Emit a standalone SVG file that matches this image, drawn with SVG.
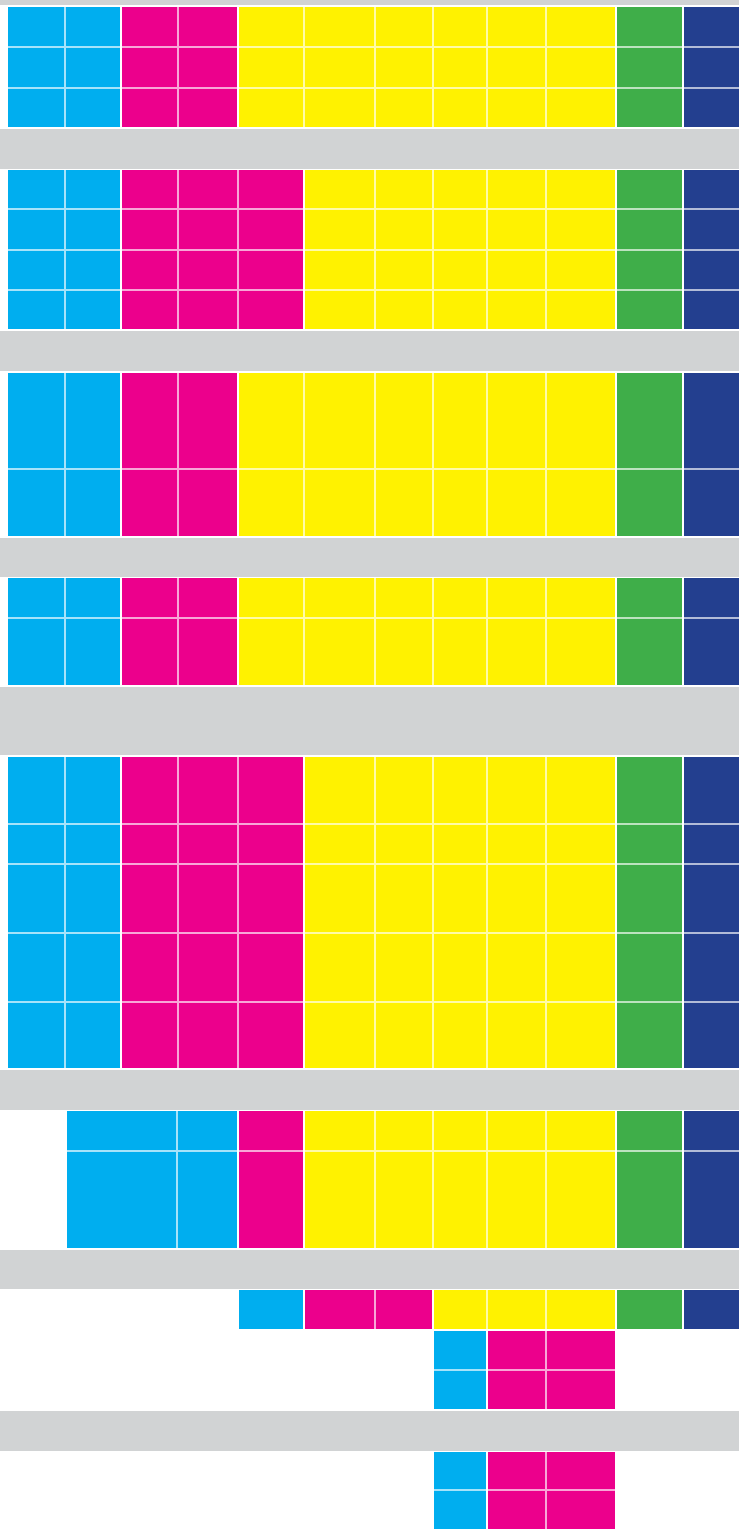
<svg xmlns="http://www.w3.org/2000/svg" width="739" height="1529" viewBox="0 0 739 1529">
<style>
.g{fill:#d1d3d4}
.c{fill:#00aeef}
.m{fill:#ec008c}
.y{fill:#fff200}
.gr{fill:#3fae49}
.b{fill:#233f8f}
.s{stroke:#ffffff;stroke-opacity:0.65;stroke-width:2;fill:none}
</style>
<rect width="739" height="1529" fill="#ffffff"/>
<g id="gray-bands">
<rect class="g" x="0" y="0" width="739" height="5"/>
<rect class="g" x="0" y="129" width="739" height="40"/>
<rect class="g" x="0" y="331" width="739" height="40"/>
<rect class="g" x="0" y="538" width="739" height="39"/>
<rect class="g" x="0" y="687" width="739" height="68"/>
<rect class="g" x="0" y="1070" width="739" height="40"/>
<rect class="g" x="0" y="1250" width="739" height="39"/>
<rect class="g" x="0" y="1411" width="739" height="40"/>
</g>
<g id="band1">
<rect class="c" x="8" y="7" width="112" height="120"/>
<rect class="m" x="122" y="7" width="115" height="120"/>
<rect class="y" x="239" y="7" width="376" height="120"/>
<rect class="gr" x="617" y="7" width="65" height="120"/>
<rect class="b" x="684" y="7" width="55" height="120"/>
<path class="s" d="M65 7V127M178 7V127M304 7V127M375 7V127M433 7V127M487 7V127M546 7V127M8 47H739M8 88H739"/>
</g>
<g id="band2">
<rect class="c" x="8" y="170" width="112" height="159"/>
<rect class="m" x="122" y="170" width="181" height="159"/>
<rect class="y" x="305" y="170" width="310" height="159"/>
<rect class="gr" x="617" y="170" width="65" height="159"/>
<rect class="b" x="684" y="170" width="55" height="159"/>
<path class="s" d="M65 170V329M178 170V329M238 170V329M375 170V329M433 170V329M487 170V329M546 170V329M8 209H739M8 250H739M8 290H739"/>
</g>
<g id="band3">
<rect class="c" x="8" y="373" width="112" height="163"/>
<rect class="m" x="122" y="373" width="115" height="163"/>
<rect class="y" x="239" y="373" width="376" height="163"/>
<rect class="gr" x="617" y="373" width="65" height="163"/>
<rect class="b" x="684" y="373" width="55" height="163"/>
<path class="s" d="M65 373V536M178 373V536M304 373V536M375 373V536M433 373V536M487 373V536M546 373V536M8 469H739"/>
</g>
<g id="band4">
<rect class="c" x="8" y="578" width="112" height="107"/>
<rect class="m" x="122" y="578" width="115" height="107"/>
<rect class="y" x="239" y="578" width="376" height="107"/>
<rect class="gr" x="617" y="578" width="65" height="107"/>
<rect class="b" x="684" y="578" width="55" height="107"/>
<path class="s" d="M65 578V685M178 578V685M304 578V685M375 578V685M433 578V685M487 578V685M546 578V685M8 618H739"/>
</g>
<g id="band5">
<rect class="c" x="8" y="757" width="112" height="311"/>
<rect class="m" x="122" y="757" width="181" height="311"/>
<rect class="y" x="305" y="757" width="310" height="311"/>
<rect class="gr" x="617" y="757" width="65" height="311"/>
<rect class="b" x="684" y="757" width="55" height="311"/>
<path class="s" d="M65 757V1068M178 757V1068M238 757V1068M375 757V1068M433 757V1068M487 757V1068M546 757V1068M8 824H739M8 864H739M8 933H739M8 1002H739"/>
</g>
<g id="band6">
<rect class="c" x="67" y="1111" width="170" height="137"/>
<rect class="m" x="239" y="1111" width="64" height="137"/>
<rect class="y" x="305" y="1111" width="310" height="137"/>
<rect class="gr" x="617" y="1111" width="65" height="137"/>
<rect class="b" x="684" y="1111" width="55" height="137"/>
<path class="s" d="M177 1111V1248M375 1111V1248M433 1111V1248M487 1111V1248M546 1111V1248M67 1151H739"/>
</g>
<g id="band7">
<rect class="c" x="239" y="1290" width="64" height="39"/>
<rect class="m" x="305" y="1290" width="127" height="39"/>
<rect class="y" x="434" y="1290" width="181" height="39"/>
<rect class="gr" x="617" y="1290" width="65" height="39"/>
<rect class="b" x="684" y="1290" width="55" height="39"/>
<path class="s" d="M375 1290V1329M487 1290V1329M546 1290V1329"/>
</g>
<g id="band7-lower">
<rect class="c" x="434" y="1331" width="52" height="78"/>
<rect class="m" x="488" y="1331" width="127" height="78"/>
<path class="s" d="M546 1331V1409M434 1370H615"/>
</g>
<g id="band8">
<rect class="c" x="434" y="1452" width="52" height="77"/>
<rect class="m" x="488" y="1452" width="127" height="77"/>
<path class="s" d="M546 1452V1529M434 1490H615"/>
</g>
<g id="connectors"/>
</svg>
